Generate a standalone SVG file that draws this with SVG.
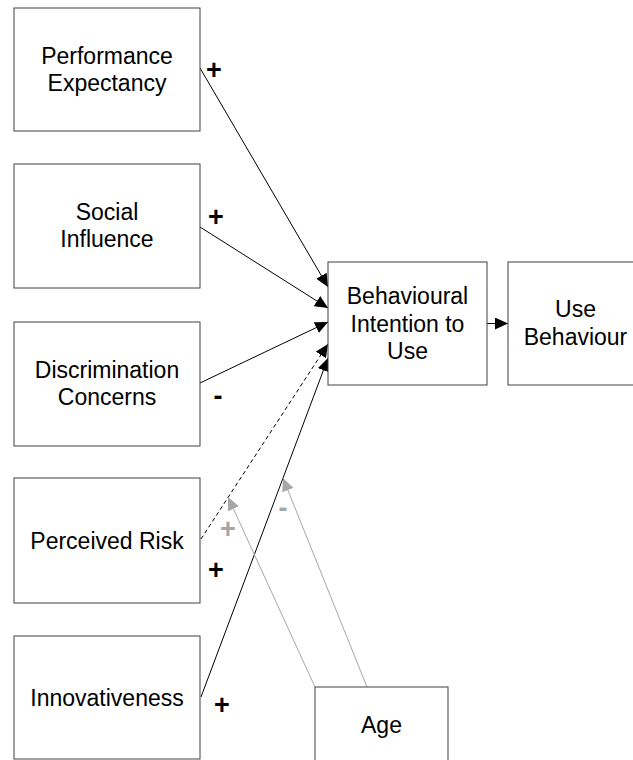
<svg xmlns="http://www.w3.org/2000/svg" width="633" height="760" viewBox="0 0 633 760">
<style>
.box{fill:#fff;stroke:#404040;stroke-width:1}
.t{font-family:"Liberation Sans",Arial,sans-serif;font-size:23px;fill:#000;text-anchor:middle}
.s{font-family:"Liberation Sans",Arial,sans-serif;font-size:27px;font-weight:bold;text-anchor:middle}
.ln{fill:none;stroke:#000;stroke-width:1}
.gl{fill:none;stroke:#a6a6a6;stroke-width:1}
</style>
<defs>
<marker id="ah" markerUnits="userSpaceOnUse" markerWidth="14" markerHeight="12" refX="13" refY="6" orient="auto">
<path d="M0,0 L13,6 L0,12 z" fill="#000"/>
</marker>
<marker id="gh" markerUnits="userSpaceOnUse" markerWidth="14" markerHeight="12" refX="13" refY="6" orient="auto">
<path d="M0,0 L13,6 L0,12 z" fill="#a6a6a6"/>
</marker>
</defs>
<rect width="633" height="760" fill="#fff"/>
<g id="connectors">
<line class="ln" x1="200" y1="68" x2="328" y2="287" marker-end="url(#ah)"/>
<line class="ln" x1="200" y1="227" x2="328" y2="308" marker-end="url(#ah)"/>
<line class="ln" x1="200" y1="383" x2="328" y2="322" marker-end="url(#ah)"/>
<line class="ln" x1="201" y1="539" x2="328" y2="344" stroke-dasharray="4,3" marker-end="url(#ah)"/>
<line class="ln" x1="201" y1="697" x2="328" y2="358" marker-end="url(#ah)"/>
<line class="ln" x1="487" y1="323.5" x2="508" y2="323.5" marker-end="url(#ah)"/>
<line class="gl" x1="315" y1="687" x2="228" y2="497" marker-end="url(#gh)"/>
<line class="gl" x1="367" y1="687" x2="283" y2="478" marker-end="url(#gh)"/>
<text class="s" x="214" y="79">+</text>
<text class="s" x="216" y="226">+</text>
<text class="s" x="218" y="405">-</text>
<text class="s" x="216" y="579">+</text>
<text class="s" x="222" y="714">+</text>
<text class="s" x="228" y="538" fill="#a6a6a6">+</text>
<text class="s" x="283" y="517" fill="#a6a6a6">-</text>
</g>
<g id="performance-expectancy">
<rect class="box" x="14" y="8" width="186" height="123"/>
<text class="t" x="107" y="64">Performance</text>
<text class="t" x="107" y="91">Expectancy</text>
</g>
<g id="social-influence">
<rect class="box" x="14" y="164" width="186" height="124"/>
<text class="t" x="107" y="220">Social</text>
<text class="t" x="107" y="247">Influence</text>
</g>
<g id="discrimination-concerns">
<rect class="box" x="14" y="322" width="186" height="124"/>
<text class="t" x="107" y="378">Discrimination</text>
<text class="t" x="107" y="405">Concerns</text>
</g>
<g id="perceived-risk">
<rect class="box" x="14" y="478" width="186" height="125"/>
<text class="t" x="107" y="549">Perceived Risk</text>
</g>
<g id="innovativeness">
<rect class="box" x="14" y="636" width="186" height="123"/>
<text class="t" x="107" y="706">Innovativeness</text>
</g>
<g id="behavioural-intention">
<rect class="box" x="328" y="262" width="159" height="123"/>
<text class="t" x="407.5" y="304">Behavioural</text>
<text class="t" x="407.5" y="332">Intention to</text>
<text class="t" x="407.5" y="359">Use</text>
</g>
<g id="use-behaviour">
<rect class="box" x="508" y="262" width="135" height="123"/>
<text class="t" x="575.5" y="317">Use</text>
<text class="t" x="575.5" y="345">Behaviour</text>
</g>
<g id="age">
<rect class="box" x="315" y="687" width="133" height="76"/>
<text class="t" x="381.5" y="733">Age</text>
</g>
</svg>
